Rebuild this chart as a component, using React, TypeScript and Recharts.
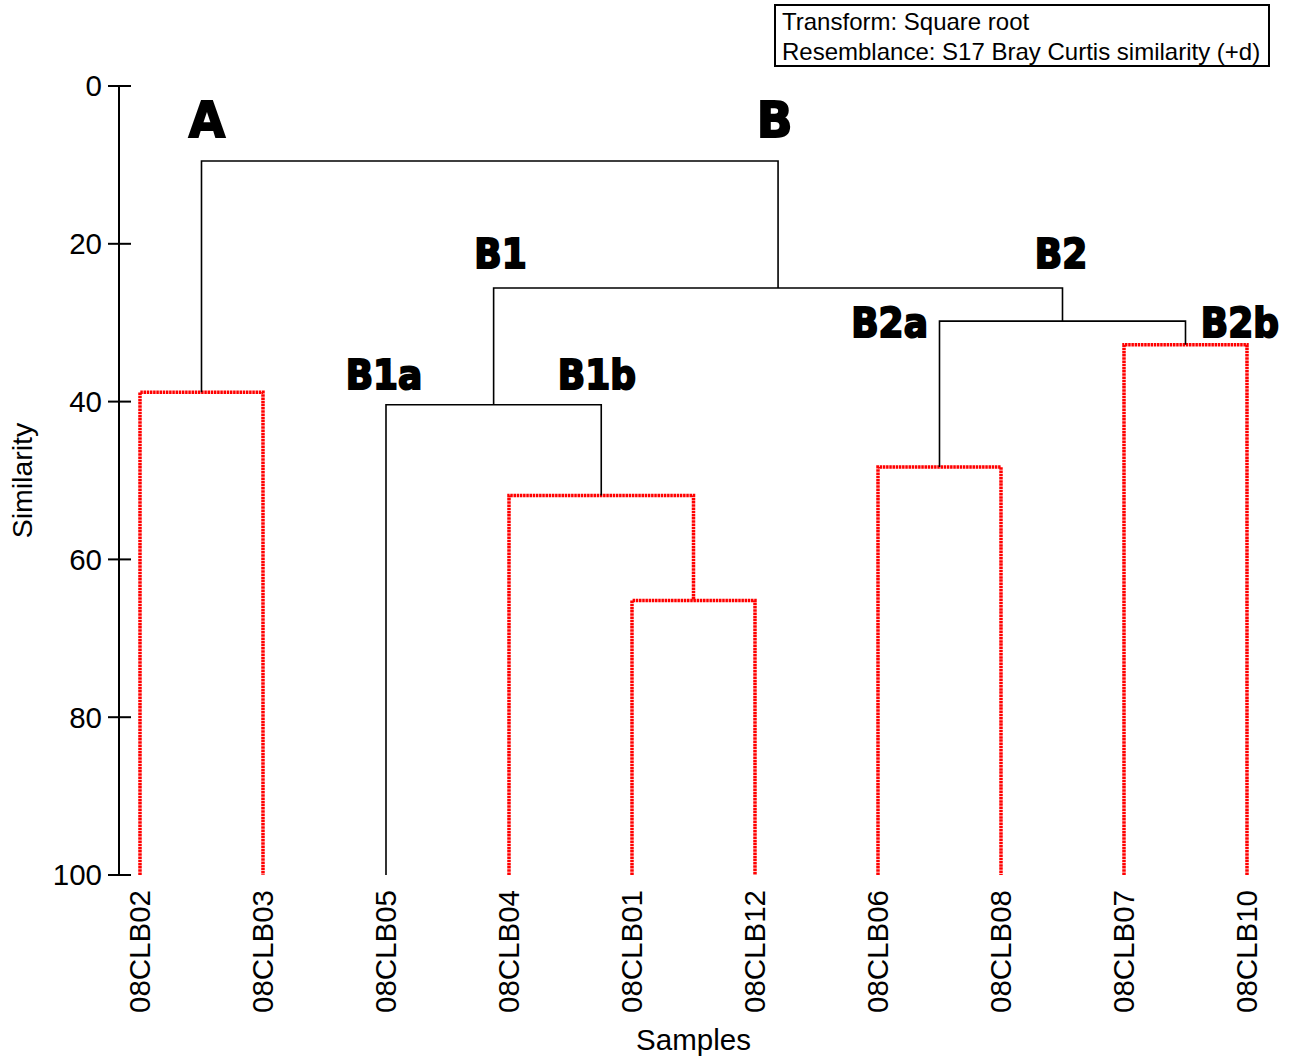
// Cluster dendrogram (group average, Bray Curtis similarity) of ten samples.
// Red branches mark the groups that SIMPROF could not split further.

import { Line, LineChart, ReferenceDot, XAxis, YAxis } from 'recharts';

const leaves = [
  '08CLB02', '08CLB03', '08CLB05', '08CLB04', '08CLB01',
  '08CLB12', '08CLB06', '08CLB08', '08CLB07', '08CLB10',
];

// merges in joining order: name, left child, right child, similarity
const mergeNames = ['A', 'B1b2', 'B1b', 'B1', 'B2a', 'B2b', 'B2', 'B', 'root'];
const mergeLeft = ['08CLB02', '08CLB01', '08CLB04', '08CLB05', '08CLB06', '08CLB07', 'B2a', 'B1', 'A'];
const mergeRight = ['08CLB03', '08CLB12', 'B1b2', 'B1b', '08CLB08', '08CLB10', 'B2b', 'B2', 'B'];
const mergeHeights = [38.8, 65.2, 51.9, 40.4, 48.3, 32.8, 29.8, 25.6, 9.5];
const mergeRed = [true, true, true, false, true, true, false, false, false];

const groupLabels = ['A', 'B', 'B1', 'B2', 'B1a', 'B1b', 'B2a', 'B2b'];
const groupLabelX = [0.545, 5.159, 2.931, 7.488, 1.984, 3.715, 6.094, 8.943];
const groupLabelY = [6.46, 6.46, 23.07, 23.07, 38.4, 38.4, 31.8, 31.8];
const groupLabelBig = [true, true, false, false, false, false, false, false];

const yTicks = [0, 20, 40, 60, 80, 100];

const FONT = '"Liberation Sans", Arial, sans-serif';
const RED = '#ff0000';
const AXIS_FS = 29.5;

type Pt = { x: number; y: number };

const pos: Record<string, Pt> = {};
leaves.forEach((l, i) => {
  pos[l] = { x: i, y: 100 };
});
const segments = mergeNames.map((name, i) => {
  const l = pos[mergeLeft[i]];
  const r = pos[mergeRight[i]];
  const h = mergeHeights[i];
  pos[name] = { x: (l.x + r.x) / 2, y: h };
  return {
    name,
    red: mergeRed[i],
    points: [
      { x: l.x, y: l.y },
      { x: l.x, y: h },
      { x: r.x, y: h },
      { x: r.x, y: r.y },
    ],
  };
});

function YTick(props: any) {
  const { x, y, payload } = props;
  return (
    <g>
      <line x1={x - 11} x2={x + 12} y1={y} y2={y} stroke="#000" strokeWidth={2} />
      <text x={x - 17} y={y} dy="0.35em" textAnchor="end" fontSize={AXIS_FS} fontFamily={FONT} fill="#000">
        {payload.value}
      </text>
    </g>
  );
}

function XTick(props: any) {
  const { x, y, payload } = props;
  return (
    <text
      x={x}
      y={y}
      dy={10.5}
      transform={`rotate(-90 ${x} ${y})`}
      textAnchor="end"
      fontSize={AXIS_FS}
      fontFamily={FONT}
      fill="#000"
    >
      {leaves[payload.value]}
    </text>
  );
}

function GroupLabel({ cx, cy, text, big }: any) {
  return (
    <text
      transform={`translate(${cx} ${cy}) scale(1 ${big ? 1.05 : 1.15})`}
      x={0}
      y={0}
      textAnchor="middle"
      fontSize={big ? 47 : 36}
      fontWeight="bold"
      fontFamily='"DejaVu Sans", sans-serif'
      fill="#000"
      stroke="#000"
      strokeWidth={1.8}
    >
      {text}
    </text>
  );
}

export default function App() {
  return (
    <div style={{ position: 'absolute', left: 0, top: 0, width: 1294, height: 1059, background: '#fff' }}>
      <LineChart width={1294} height={1059} margin={{ top: 86, right: 24, bottom: 0, left: 0 }}>
        <XAxis
          type="number"
          dataKey="x"
          domain={[-0.1707, 9.187]}
          ticks={leaves.map((_, i) => i)}
          interval={0}
          axisLine={false}
          tickLine={false}
          tickSize={0}
          tickMargin={15}
          height={184}
          tick={<XTick />}
          label={{
            content: (p: any) => (
              <text
                x={p.viewBox.x + p.viewBox.width / 2 - 1}
                y={p.viewBox.y + p.viewBox.height - 9}
                textAnchor="middle"
                fontSize={AXIS_FS}
                fontFamily={FONT}
                fill="#000"
              >
                Samples
              </text>
            ),
          }}
        />
        <YAxis
          type="number"
          dataKey="y"
          domain={[0, 100]}
          ticks={yTicks}
          reversed
          width={119}
          axisLine={{ stroke: '#000', strokeWidth: 2 }}
          tickLine={false}
          tickSize={0}
          tickMargin={0}
          tick={<YTick />}
          label={{
            content: (p: any) => {
              const lx = p.viewBox.x + 32;
              const ly = p.viewBox.y + p.viewBox.height / 2;
              return (
                <text
                  x={lx}
                  y={ly}
                  transform={`rotate(-90 ${lx} ${ly})`}
                  textAnchor="middle"
                  fontSize={28.5}
                  fontFamily={FONT}
                  fill="#000"
                >
                  Similarity
                </text>
              );
            },
          }}
        />
        {segments.map((s) => (
          <Line
            key={s.name}
            data={s.points}
            dataKey="y"
            type="linear"
            stroke={s.red ? RED : '#000'}
            strokeWidth={s.red ? 3.5 : 1.6}
            strokeDasharray={s.red ? '2.5 0.7' : undefined}
            dot={false}
            activeDot={false}
            isAnimationActive={false}
          />
        ))}
        {groupLabels.map((g, i) => (
          <ReferenceDot
            key={g}
            x={groupLabelX[i]}
            y={groupLabelY[i]}
            r={0}
            shape={(p: any) => <GroupLabel cx={p.cx} cy={p.cy} text={g} big={groupLabelBig[i]} />}
          />
        ))}
      </LineChart>
      <div
        style={{
          position: 'absolute',
          left: 774,
          top: 4,
          width: 496,
          height: 63,
          boxSizing: 'border-box',
          border: '2px solid #000',
          paddingLeft: 6,
          paddingTop: 1,
          fontFamily: FONT,
          fontSize: 24,
          lineHeight: '30px',
          color: '#000',
          whiteSpace: 'nowrap',
        }}
      >
        <div>Transform: Square root</div>
        <div>Resemblance: S17 Bray Curtis similarity (+d)</div>
      </div>
    </div>
  );
}
